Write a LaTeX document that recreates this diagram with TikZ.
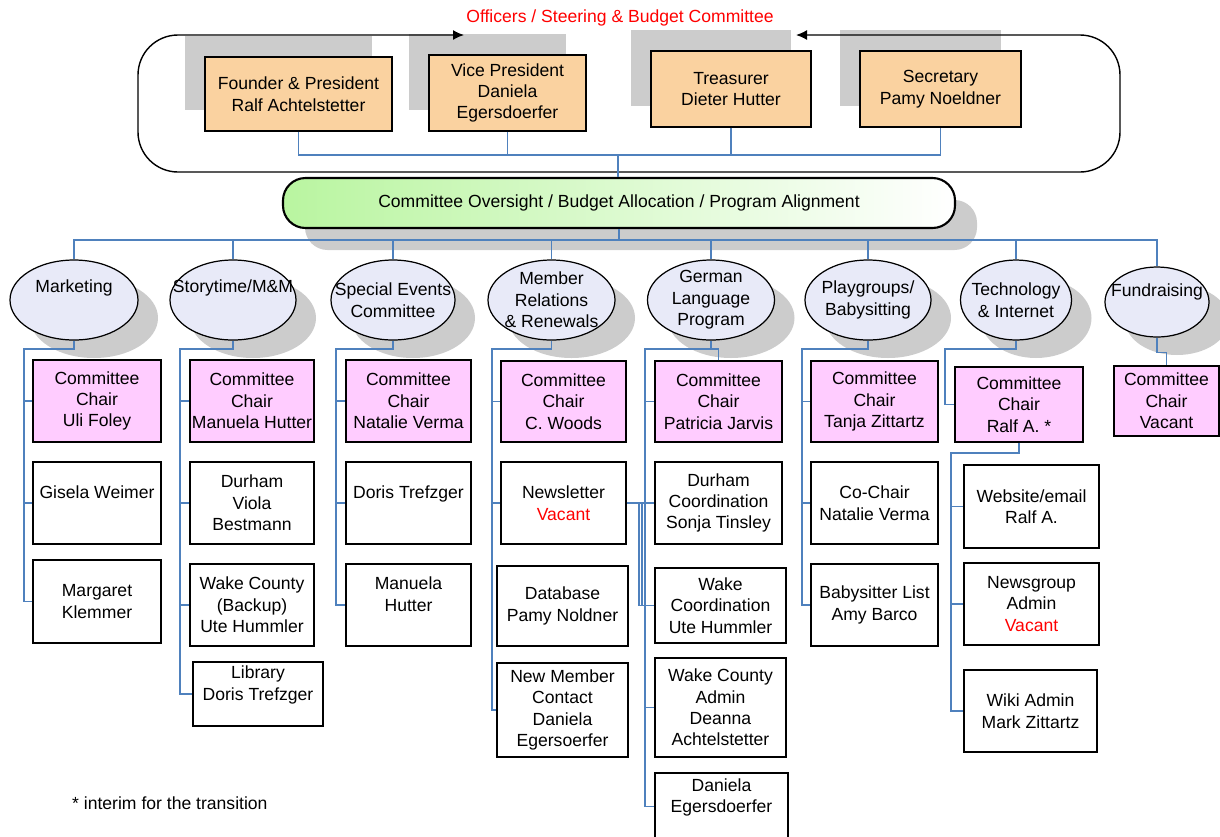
\documentclass[tikz,border=0pt]{standalone}
\usepackage{fontspec}
\setmainfont{Liberation Sans}
\usetikzlibrary{shapes.geometric,shadows,arrows.meta}
\definecolor{peach}{RGB}{250,210,160}
\definecolor{pinkbox}{RGB}{255,204,255}
\definecolor{lav}{RGB}{232,234,248}
\definecolor{shgray}{RGB}{204,204,204}
\definecolor{lnblue}{RGB}{79,129,189}
\definecolor{bargreen}{RGB}{185,245,160}
\begin{document}
\begin{tikzpicture}[x=0.02cm, y=-0.02cm,
  every node/.style={font=\fontsize{10}{12.2}\selectfont, align=center},
  wh/.style 2 args={minimum width=#1*0.02cm, minimum height=#2*0.02cm},
  officer/.style={rectangle, draw=black, line width=0.8pt, fill=peach, inner xsep=0pt, inner ysep=1pt,
     drop shadow={shadow xshift=-0.4cm, shadow yshift=0.42cm, fill=shgray, opacity=1}},
  chair/.style={rectangle, draw=black, line width=0.8pt, fill=pinkbox, inner xsep=0pt, inner ysep=1pt},
  member/.style={rectangle, draw=black, line width=0.8pt, fill=white, inner xsep=0pt, inner ysep=1pt},
  comm/.style={ellipse, draw=black, line width=0.7pt, fill=lav, inner sep=0pt,
     drop shadow={shadow xshift=0.4cm, shadow yshift=-0.36cm, fill=shgray, opacity=1}},
  bar/.style={rectangle, rounded corners=0.45cm, draw=black, line width=1.2pt, left color=bargreen, right color=white,
     drop shadow={shadow xshift=0.44cm, shadow yshift=-0.44cm, fill=shgray, opacity=1}},
  conn/.style={draw=lnblue, line width=0.7pt},
  frame/.style={draw=black, line width=0.8pt},
]
\useasboundingbox (0,0) rectangle (1220,836);

% title
\node[text=red] (title) at (620,18) {Officers / Steering \& Budget Committee};

% officers
\node[officer, wh={187}{74}] (off1) at (298.5,94) {Founder \& President\\Ralf Achtelstetter};
\node[officer, wh={157}{76}] (off2) at (507.5,93) {Vice President\\Daniela\\Egersdoerfer};
\node[officer, wh={160}{76}] (off3) at (731,89) {Treasurer\\Dieter Hutter};
\node[officer, wh={161}{76}] (off4) at (940.5,89) {Secretary\\Pamy Noeldner};

% frame with arrows
\coordinate (aL) at (464,35);
\coordinate (aR) at (796,35);
\coordinate (fTL) at (138,35);
\coordinate (fBL) at (138,172);
\coordinate (fBR) at (1120,172);
\coordinate (fTR) at (1120,35);
\draw[frame, rounded corners=0.8cm, {Latex[length=0.22cm,width=0.2cm]}-{Latex[length=0.22cm,width=0.2cm]}]
  (aL) -- (fTL) -- (fBL) -- (fBR) -- (fTR) -- (aR);

% oversight bar
\node[bar, wh={672}{50}] (bar) at (619,203) {Committee Oversight / Budget Allocation / Program Alignment};

% committees
\node[comm, wh={128}{80}, label={[yshift=0.24cm]center:Marketing}] (mk) at (74,300) {};
\node[comm, wh={126}{80}, label={[yshift=0.24cm]center:Storytime/M\&M}] (st) at (233,300) {};
\node[comm, wh={124}{80}, label={center:Special Events\\Committee}] (se) at (393,300) {};
\node[comm, wh={127}{80}, label={center:Member\\Relations\\\& Renewals}] (mr) at (551.5,300) {};
\node[comm, wh={127}{80}, label={center:German\\Language\\Program}] (gl) at (711,300) {};
\node[comm, wh={126}{80}, label={center:Playgroups/\\Babysitting}] (pg) at (868,300) {};
\node[comm, wh={111}{80}, label={center:Technology\\\& Internet}] (ti) at (1016,300) {};
\node[comm, wh={104}{70}, label={[yshift=0.2cm]center:Fundraising}] (fr) at (1157,302) {};

% officer connectors
\coordinate (ob) at (618,155);
\draw[conn] (off1.south) |- (ob) -| (off4.south);
\draw[conn] (off2.south) -- (off2.south |- ob);
\draw[conn] (off3.south) -- (off3.south |- ob);
\draw[conn] (ob) -- (ob |- bar.north);

% bus
\coordinate (bus) at (619,240);
\draw[conn] (bar.south) -- (bus);
\draw[conn] (mk.north) |- (bus) -| (fr.north);
\foreach \n in {st,se,mr,gl,pg,ti} \draw[conn] (\n.north) -- (\n.north |- bus);

% Marketing column
\node[chair, wh={128}{82}] (mk1) at (97,401) {Committee\\Chair\\Uli Foley};
\node[member, wh={128}{82}] (mk2) at (97,503) {Gisela Weimer\\\mbox{}};
\node[member, wh={128}{83}] (mk3) at (97,601.5) {Margaret\\Klemmer};
\coordinate (mkS) at (24,349);
\draw[conn] (mk.south) |- (mkS) |- (mk3.west);
\foreach \b in {mk1,mk2} \draw[conn] (mkS |- \b.west) -- (\b.west);

% Storytime column
\node[chair, wh={124}{82}] (st1) at (252,401) {Committee\\Chair\\Manuela Hutter};
\node[member, wh={124}{82}] (st2) at (252,503) {Durham\\Viola\\Bestmann};
\node[member, wh={124}{82}] (st3) at (252,605) {Wake County\\(Backup)\\Ute Hummler};
\node[member, wh={130}{64}] (st4) at (258,694) {Library\\Doris Trefzger\\\mbox{}};
\coordinate (stS) at (180,349);
\draw[conn] (st.south) |- (stS) |- (st4.west);
\foreach \b in {st1,st2,st3} \draw[conn] (stS |- \b.west) -- (\b.west);

% Special events column
\node[chair, wh={125}{82}] (se1) at (408.5,401) {Committee\\Chair\\Natalie Verma};
\node[member, wh={125}{82}] (se2) at (408.5,503) {Doris Trefzger\\\mbox{}};
\node[member, wh={125}{82}] (se3) at (408.5,605) {Manuela\\Hutter\\\mbox{}};
\coordinate (seS) at (336,349);
\draw[conn] (se.south) |- (seS) |- (se3.west);
\foreach \b in {se1,se2} \draw[conn] (seS |- \b.west) -- (\b.west);

% Member relations column
\node[chair, wh={125}{81}] (mr1) at (563.5,401.5) {Committee\\Chair\\C. Woods};
\node[member, wh={125}{82}] (mr2) at (563.5,503) {Newsletter\\\textcolor{red}{Vacant}};
\node[member, wh={131}{80}] (mr3) at (562.5,606) {Database\\Pamy Noldner};
\node[member, wh={131}{94}] (mr4) at (562.5,710) {New Member\\Contact\\Daniela\\Egersoerfer};
\coordinate (mrS) at (492,349);
\draw[conn] (mr.south) |- (mrS) |- (mr4.west);
\foreach \b in {mr1,mr2} \draw[conn] (mrS |- \b.west) -- (\b.west);

% German language column
\node[chair, wh={127}{81}] (gl1) at (718.5,401.5) {Committee\\Chair\\Patricia Jarvis};
\node[member, wh={127}{82}] (gl2) at (718.5,503) {Durham\\Coordination\\Sonja Tinsley};
\node[member, wh={131}{75}] (gl3) at (720.5,605.5) {Wake\\Coordination\\Ute Hummler};
\node[member, wh={131}{99}] (gl4) at (720.5,707.5) {Wake County\\Admin\\Deanna\\Achtelstetter};
\node[member, wh={133}{67}] (gl5) at (721.5,806.5) {Daniela\\Egersdoerfer\\\mbox{}};
\coordinate (glS) at (645,349);
\draw[conn] (gl.south) -- (gl.south |- glS);
\draw[conn] (gl1.north) |- (glS) |- (gl5.west);
\foreach \b in {gl1,gl2,gl3,gl4} \draw[conn] (glS |- \b.west) -- (\b.west);
\coordinate (nlA) at (639,349);
\coordinate (nlB) at (642,349);
\draw[conn] (mr2.east) -- (gl2.west);
\draw[conn] (mr2.east -| nlA) |- (gl3.west);
\draw[conn] (mr2.east -| nlB) |- (gl3.west);

% Playgroups column
\node[chair, wh={127}{81}] (pg1) at (874.5,401.5) {Committee\\Chair\\Tanja Zittartz};
\node[member, wh={127}{82}] (pg2) at (874.5,503) {Co-Chair\\Natalie Verma};
\node[member, wh={127}{82}] (pg3) at (874.5,605) {Babysitter List\\Amy Barco};
\coordinate (pgS) at (802,349);
\draw[conn] (pg.south) |- (pgS) |- (pg3.west);
\foreach \b in {pg1,pg2} \draw[conn] (pgS |- \b.west) -- (\b.west);

% Technology column
\node[chair, wh={128}{75}] (ti1) at (1019,404.5) {Committee\\Chair\\Ralf A. *};
\node[member, wh={135}{83}] (ti2) at (1031.5,506.5) {Website/email\\Ralf A.};
\node[member, wh={135}{82}] (ti3) at (1031.5,604) {Newsgroup\\Admin\\\textcolor{red}{Vacant}};
\node[member, wh={133}{82}] (ti4) at (1030.5,711) {Wiki Admin\\Mark Zittartz};
\coordinate (tiS) at (945,349);
\draw[conn] (ti.south) |- (tiS) |- (ti1.west);
\coordinate (tiT) at (951,453);
\draw[conn] (ti1.south) |- (tiT) |- (ti4.west);
\foreach \b in {ti2,ti3} \draw[conn] (tiT |- \b.west) -- (\b.west);

% Fundraising column
\node[chair, wh={105}{70}] (fr1) at (1166.5,401) {Committee\\Chair\\Vacant};
\draw[conn] (fr.south) -- ++(0,15) -| (fr1.north);

% footnote
\node[anchor=west] (note) at (66,803) {* interim for the transition};
\end{tikzpicture}
\end{document}
